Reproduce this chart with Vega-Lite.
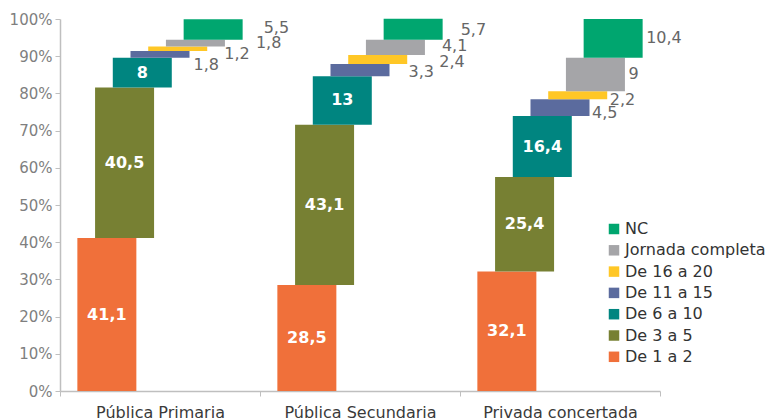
{
  "$schema": "https://vega.github.io/schema/vega-lite/v6.json",
  "width": 600,
  "height": 372,
  "autosize": "none",
  "padding": {"left": 60, "top": 19, "right": 107, "bottom": 29},
  "background": "white",
  "config": {
    "view": {"stroke": null},
    "font": "DejaVu Sans",
    "locale": {"number": {"decimal": ",", "thousands": ".", "grouping": [3], "currency": ["", " €"]}}
  },
  "data": {
    "values": [
      {"cat": "Pública Primaria", "seg": "De 1 a 2", "order": 1, "value": 41.1},
      {"cat": "Pública Primaria", "seg": "De 3 a 5", "order": 2, "value": 40.5},
      {"cat": "Pública Primaria", "seg": "De 6 a 10", "order": 3, "value": 8},
      {"cat": "Pública Primaria", "seg": "De 11 a 15", "order": 4, "value": 1.8},
      {"cat": "Pública Primaria", "seg": "De 16 a 20", "order": 5, "value": 1.2},
      {"cat": "Pública Primaria", "seg": "Jornada completa", "order": 6, "value": 1.8},
      {"cat": "Pública Primaria", "seg": "NC", "order": 7, "value": 5.5},
      {"cat": "Pública Secundaria", "seg": "De 1 a 2", "order": 1, "value": 28.5},
      {"cat": "Pública Secundaria", "seg": "De 3 a 5", "order": 2, "value": 43.1},
      {"cat": "Pública Secundaria", "seg": "De 6 a 10", "order": 3, "value": 13},
      {"cat": "Pública Secundaria", "seg": "De 11 a 15", "order": 4, "value": 3.3},
      {"cat": "Pública Secundaria", "seg": "De 16 a 20", "order": 5, "value": 2.4},
      {"cat": "Pública Secundaria", "seg": "Jornada completa", "order": 6, "value": 4.1},
      {"cat": "Pública Secundaria", "seg": "NC", "order": 7, "value": 5.7},
      {"cat": "Privada concertada", "seg": "De 1 a 2", "order": 1, "value": 32.1},
      {"cat": "Privada concertada", "seg": "De 3 a 5", "order": 2, "value": 25.4},
      {"cat": "Privada concertada", "seg": "De 6 a 10", "order": 3, "value": 16.4},
      {"cat": "Privada concertada", "seg": "De 11 a 15", "order": 4, "value": 4.5},
      {"cat": "Privada concertada", "seg": "De 16 a 20", "order": 5, "value": 2.2},
      {"cat": "Privada concertada", "seg": "Jornada completa", "order": 6, "value": 9},
      {"cat": "Privada concertada", "seg": "NC", "order": 7, "value": 10.4}
    ]
  },
  "transform": [
    {"stack": "value", "groupby": ["cat"], "sort": [{"field": "order", "order": "ascending"}], "as": ["y0", "y1"]}
  ],
  "encoding": {
    "x": {
      "field": "cat", "type": "nominal",
      "sort": ["Pública Primaria", "Pública Secundaria", "Privada concertada"],
      "scale": {"paddingInner": 0, "paddingOuter": 0},
      "axis": {
        "title": null, "labelAngle": 0, "tickBand": "extent",
        "labelFontSize": 16, "labelColor": "#3a3a3a", "labelFont": "DejaVu Sans",
        "tickSize": 5, "tickColor": "#bfbfbf", "domainColor": "#bfbfbf", "domainWidth": 1.5, "labelPadding": 8
      }
    },
    "xOffset": {
      "field": "seg", "type": "nominal",
      "sort": ["De 1 a 2", "De 3 a 5", "De 6 a 10", "De 11 a 15", "De 16 a 20", "Jornada completa", "NC"],
      "scale": {"paddingInner": 0, "paddingOuter": 0, "range": [38, 162]}
    },
    "y": {
      "field": "y0", "type": "quantitative",
      "scale": {"domain": [0, 100], "nice": false},
      "axis": {
        "title": null, "grid": false,
        "values": [0, 10, 20, 30, 40, 50, 60, 70, 80, 90, 100],
        "labelExpr": "datum.value + '%'",
        "labelFontSize": 15, "labelColor": "#7f7f7f", "labelFont": "DejaVu Sans",
        "tickSize": 5, "tickColor": "#bfbfbf", "domainColor": "#bfbfbf", "domainWidth": 1.5, "labelPadding": 3
      }
    }
  },
  "layer": [
    {
      "mark": {"type": "bar", "width": 59},
      "encoding": {
        "y2": {"field": "y1"},
        "color": {
          "field": "seg", "type": "nominal",
          "scale": {
            "domain": ["NC", "Jornada completa", "De 16 a 20", "De 11 a 15", "De 6 a 10", "De 3 a 5", "De 1 a 2"],
            "range": ["#00a66f", "#a5a5a8", "#ffc726", "#5b6b9e", "#008580", "#778033", "#f0703a"]
          },
          "legend": {
            "title": null, "orient": "none", "legendX": 546, "legendY": 202,
            "symbolType": "square", "symbolSize": 110, "symbolStrokeWidth": 0,
            "labelFontSize": 16, "labelColor": "#333333", "labelFont": "DejaVu Sans",
            "rowPadding": 5.3, "labelOffset": 3, "padding": 0
          }
        }
      }
    },
    {
      "transform": [
        {"fold": ["y0", "y1"], "as": ["k", "v"]},
        {"aggregate": [{"op": "mean", "field": "v", "as": "mid"}], "groupby": ["cat", "seg", "order", "value"]}
      ],
      "layer": [
        {
          "transform": [{"filter": "datum.order <= 3"}],
          "mark": {"type": "text", "color": "white", "fontWeight": "bold", "fontSize": 16, "font": "DejaVu Sans", "baseline": "middle"},
          "encoding": {"y": {"field": "mid", "type": "quantitative"}, "text": {"field": "value", "type": "quantitative", "format": ".1~f"}}
        },
        {
          "transform": [{"filter": "datum.cat == 'Privada concertada' && datum.order >= 4 && datum.order <= 5"}],
          "mark": {"type": "text", "color": "#666666", "fontSize": 16, "font": "DejaVu Sans", "align": "left", "baseline": "middle", "dx": 32, "dy": 5},
          "encoding": {"y": {"field": "mid", "type": "quantitative"}, "text": {"field": "value", "type": "quantitative", "format": ".1~f"}}
        },
        {
          "transform": [{"filter": "datum.cat == 'Privada concertada' && datum.order >= 6"}],
          "mark": {"type": "text", "color": "#666666", "fontSize": 16, "font": "DejaVu Sans", "align": "left", "baseline": "middle", "dx": 33, "dy": 0},
          "encoding": {"y": {"field": "mid", "type": "quantitative"}, "text": {"field": "value", "type": "quantitative", "format": ".1~f"}}
        },
        {
          "transform": [{"filter": "datum.cat == 'Pública Primaria' && datum.order == 4"}],
          "mark": {"type": "text", "color": "#666666", "fontSize": 16, "font": "DejaVu Sans", "align": "left", "baseline": "middle", "dx": 33.5, "dy": 11},
          "encoding": {"y": {"field": "mid", "type": "quantitative"}, "text": {"field": "value", "type": "quantitative", "format": ".1~f"}}
        },
        {
          "transform": [{"filter": "datum.cat == 'Pública Primaria' && datum.order == 5"}],
          "mark": {"type": "text", "color": "#666666", "fontSize": 16, "font": "DejaVu Sans", "align": "left", "baseline": "middle", "dx": 46.5, "dy": 5},
          "encoding": {"y": {"field": "mid", "type": "quantitative"}, "text": {"field": "value", "type": "quantitative", "format": ".1~f"}}
        },
        {
          "transform": [{"filter": "datum.cat == 'Pública Primaria' && datum.order == 6"}],
          "mark": {"type": "text", "color": "#666666", "fontSize": 16, "font": "DejaVu Sans", "align": "left", "baseline": "middle", "dx": 60.5, "dy": 0},
          "encoding": {"y": {"field": "mid", "type": "quantitative"}, "text": {"field": "value", "type": "quantitative", "format": ".1~f"}}
        },
        {
          "transform": [{"filter": "datum.cat == 'Pública Primaria' && datum.order == 7"}],
          "mark": {"type": "text", "color": "#666666", "fontSize": 16, "font": "DejaVu Sans", "align": "left", "baseline": "middle", "dx": 50.5, "dy": -2},
          "encoding": {"y": {"field": "mid", "type": "quantitative"}, "text": {"field": "value", "type": "quantitative", "format": ".1~f"}}
        },
        {
          "transform": [{"filter": "datum.cat == 'Pública Secundaria' && datum.order == 4"}],
          "mark": {"type": "text", "color": "#666666", "fontSize": 16, "font": "DejaVu Sans", "align": "left", "baseline": "middle", "dx": 48.5, "dy": 2},
          "encoding": {"y": {"field": "mid", "type": "quantitative"}, "text": {"field": "value", "type": "quantitative", "format": ".1~f"}}
        },
        {
          "transform": [{"filter": "datum.cat == 'Pública Secundaria' && datum.order == 5"}],
          "mark": {"type": "text", "color": "#666666", "fontSize": 16, "font": "DejaVu Sans", "align": "left", "baseline": "middle", "dx": 61.5, "dy": 2},
          "encoding": {"y": {"field": "mid", "type": "quantitative"}, "text": {"field": "value", "type": "quantitative", "format": ".1~f"}}
        },
        {
          "transform": [{"filter": "datum.cat == 'Pública Secundaria' && datum.order == 6"}],
          "mark": {"type": "text", "color": "#666666", "fontSize": 16, "font": "DejaVu Sans", "align": "left", "baseline": "middle", "dx": 46.5, "dy": -1},
          "encoding": {"y": {"field": "mid", "type": "quantitative"}, "text": {"field": "value", "type": "quantitative", "format": ".1~f"}}
        },
        {
          "transform": [{"filter": "datum.cat == 'Pública Secundaria' && datum.order == 7"}],
          "mark": {"type": "text", "color": "#666666", "fontSize": 16, "font": "DejaVu Sans", "align": "left", "baseline": "middle", "dx": 47.5, "dy": 1},
          "encoding": {"y": {"field": "mid", "type": "quantitative"}, "text": {"field": "value", "type": "quantitative", "format": ".1~f"}}
        }
      ]
    }
  ]
}
